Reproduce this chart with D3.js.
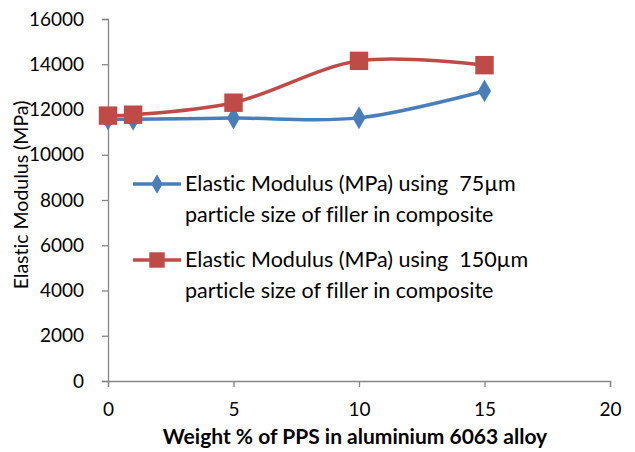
<!DOCTYPE html>
<html>
<head>
<meta charset="utf-8">
<script src="https://cdn.jsdelivr.net/npm/d3@7"></script>
<style>
  body { margin: 0; background: #fff; }
  svg text { font-family: Lato, "Open Sans", sans-serif; fill: #000; white-space: pre; font-variant-ligatures: none; }
</style>
</head>
<body>
<svg id="chart" width="635" height="452"></svg>
<script>
const weights = [0, 1, 5, 10, 15];
const modulus75 = [11580, 11570, 11620, 11630, 12820];
const modulus150 = [11730, 11770, 12300, 14150, 13960];
const xTicks = [0, 5, 10, 15, 20];
const yTicks = [0, 2000, 4000, 6000, 8000, 10000, 12000, 14000, 16000];
const legendLines = [
  ['Elastic Modulus (MPa) using  75\u00b5m', 'particle size of filler in composite'],
  ['Elastic Modulus (MPa) using  150\u00b5m', 'particle size of filler in composite'],
];

const svg = d3.select('#chart');
const xScale = d3.scaleLinear().domain([0, 20]).range([108, 610]);
const yScale = d3.scaleLinear().domain([0, 16000]).range([381, 19]);
const axisColor = '#868686';

// axes
const xAxis = svg.append('g')
  .attr('transform', `translate(0,${yScale(0)})`)
  .call(d3.axisBottom(xScale).tickValues(xTicks).tickSize(6).tickPadding(16));
const yAxis = svg.append('g')
  .attr('transform', `translate(${xScale(0)},0)`)
  .call(d3.axisLeft(yScale).tickValues(yTicks).tickSize(6).tickPadding(18).tickFormat(d3.format('d')));

[xAxis, yAxis].forEach((g) => {
  g.select('.domain').attr('stroke', axisColor).attr('stroke-width', 1.3);
  g.selectAll('.tick line').attr('stroke', axisColor).attr('stroke-width', 1.3);
  g.selectAll('.tick text').attr('font-size', 19).attr('font-family', 'Lato, sans-serif').attr('fill', '#000');
});

// axis titles
svg.append('text')
  .attr('x', 355).attr('y', 444)
  .attr('text-anchor', 'middle')
  .attr('font-size', 21).attr('font-weight', 'bold')
  .text('Weight % of PPS in aluminium 6063 alloy');

svg.append('text')
  .attr('transform', 'translate(28,195) rotate(-90)')
  .attr('text-anchor', 'middle')
  .attr('font-size', 19.5)
  .text('Elastic Modulus (MPa)');

const series = [
  { values: modulus75, color: '#4A7EBB', shape: d3.symbolDiamond, size: 150 },
  { values: modulus150, color: '#BE4B48', shape: d3.symbolSquare, size: 340 },
];

const line = d3.line()
  .x((d) => xScale(d[0]))
  .y((d) => yScale(d[1]))
  .curve(d3.curveCatmullRom.alpha(0.5));

series.forEach((s) => {
  const pts = weights.map((w, i) => [w, s.values[i]]);
  svg.append('path')
    .datum(pts)
    .attr('fill', 'none')
    .attr('stroke', s.color)
    .attr('stroke-width', 3.5)
    .attr('d', line);
  svg.append('g')
    .selectAll('path')
    .data(pts)
    .enter()
    .append('path')
    .attr('transform', (d) => `translate(${xScale(d[0])},${yScale(d[1])})`)
    .attr('d', d3.symbol().type(s.shape).size(s.size))
    .attr('fill', s.color);
});

// legend
const legendY = [184, 260];
series.forEach((s, i) => {
  const g = svg.append('g').attr('transform', `translate(0,${legendY[i]})`);
  g.append('line')
    .attr('x1', 133).attr('x2', 181)
    .attr('stroke', s.color).attr('stroke-width', 3.5);
  g.append('path')
    .attr('transform', 'translate(157,0)')
    .attr('d', d3.symbol().type(s.shape).size(s.size * (i === 0 ? 0.75 : 0.7)))
    .attr('fill', s.color);
  g.append('text')
    .attr('x', 185).attr('y', 7)
    .attr('font-size', 21.5)
    .text(legendLines[i][0]);
  g.append('text')
    .attr('x', 185).attr('y', 38)
    .attr('font-size', 21.5)
    .text(legendLines[i][1]);
});
</script>
</body>
</html>
